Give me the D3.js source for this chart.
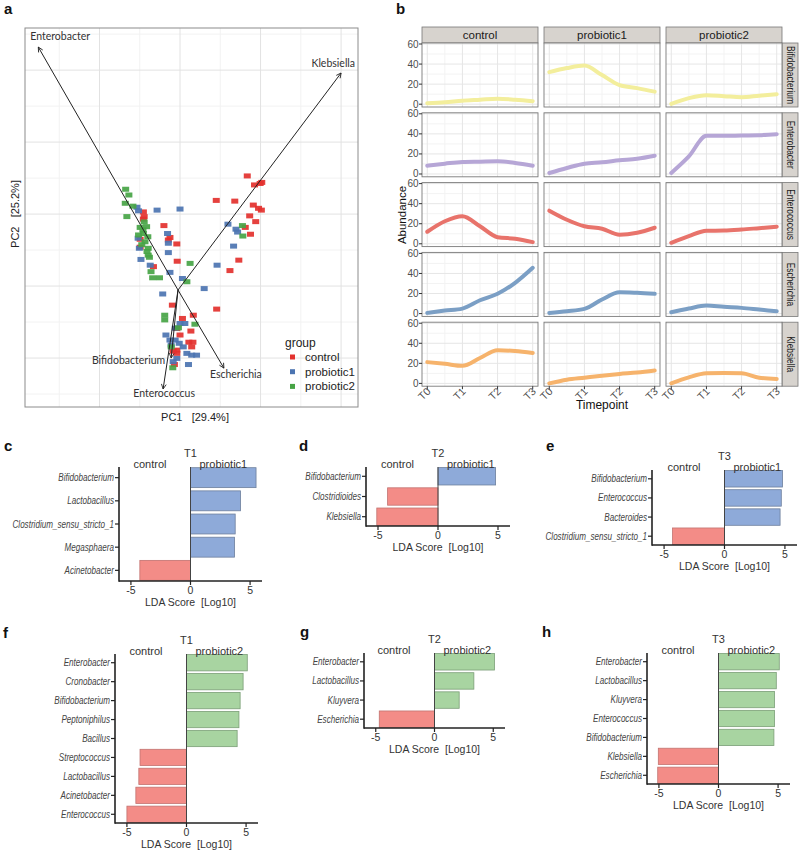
<!DOCTYPE html>
<html><head><meta charset="utf-8">
<script src="https://cdn.jsdelivr.net/npm/d3@7"></script>
<style>body{margin:0;background:#fff}svg{display:block}text{font-family:"Liberation Sans",Arial,sans-serif;white-space:pre}</style>
</head><body><svg id="c" width="800" height="850"></svg>
<script>
// ---------------- Panel a: PCA biplot data ----------------
const pcaGroups = ["control","probiotic1","probiotic2"];
const pcaControl = [[-9.1,20.6],[-8.9,19.3],[-9.1,18.6],[-4.0,16.8],[-2.5,13.5],[-2.9,12.8],[-0.8,11.7],[-0.7,6.9],[-9.9,13.0],[-9.9,10.8],[-6.6,5.4],[-1.9,-5.3],[9.1,-6.4],[14.6,7.2],[12.4,4.3],[16.7,30.6],[18.5,28.1],[19.9,28.5],[20.3,28.8],[9.0,23.8],[13.6,23.6],[18.2,22.5],[19.5,21.6],[20.2,21.1],[17.3,19.5],[18.8,17.9],[16.2,16.3],[17.5,14.4],[0.6,-9.0],[3.3,-8.1],[-0.8,-11.8],[2.7,-12.5],[0.0,-13.6],[2.2,-15.6],[3.2,-15.6],[-0.8,-17.8],[-0.8,-18.7],[2.9,-16.9],[-1.7,-18.1],[-1.4,-21.8]];
const pcaProbiotic1 = [[-10.7,21.9],[-10.3,20.9],[-5.7,21.1],[0.0,21.4],[-3.1,14.6],[-2.9,11.9],[-2.9,9.3],[-10.1,10.5],[-9.7,7.4],[-7.4,5.8],[-2.5,3.8],[0.6,2.1],[-4.3,-2.2],[6.0,-0.7],[9.2,5.8],[11.9,17.2],[13.9,15.8],[14.3,15.0],[13.3,11.1],[0.0,-10.4],[-3.5,-13.6],[-2.5,-15.0],[-1.2,-15.0],[-0.2,-15.9],[0.8,-16.9],[-2.2,-16.4],[1.7,-18.7],[2.9,-19.2],[4.1,-19.2],[-0.8,-20.1],[-1.7,-21.0],[2.1,-21.8],[1.2,-10.4],[-1.2,-11.7],[-10.4,13.3]];
const pcaProbiotic2 = [[-13.5,26.9],[-12.7,25.3],[-13.6,23.0],[-11.7,22.2],[-13.2,19.3],[-9.9,16.3],[-8.3,16.5],[-9.1,14.6],[-10.3,14.2],[-8.0,13.7],[-8.7,12.3],[-7.9,10.5],[-7.9,8.6],[-7.6,8.0],[-7.2,4.0],[-6.8,2.3],[-5.1,2.3],[2.5,6.3],[1.7,1.2],[-3.8,-8.1],[-3.8,-9.4],[3.7,-10.6],[-1.8,-22.7],[15.5,16.8],[15.6,13.9],[-9.2,15.6],[-8.9,17.8],[-0.4,-11.6],[-2.2,-16.9],[-9.5,11.5],[-8.2,9.6]];
const loadingNames = ["Enterobacter","Klebsiella","Bifidobacterium","Escherichia","Enterococcus"];
const loadingPC1 = [-35.2, 40.0, -2.2, 10.9, -4.2];
const loadingPC2 = [66.4, 59.2, -20.0, -22.8, -28.6];
const loadingOrigin = [-0.5, -1.1];
const pcaGridMajorX = [-20,0,20,40], pcaGridMinorX = [-30,-10,10,30];
const pcaGridMajorY = [-20,0,20,40,60], pcaGridMinorY = [-30,-10,10,30,50,70];

// ---------------- Panel b: abundance over time ----------------
const timepoints = ["T0","T1","T2","T3"];
const smoothSteps = [0,0.5,1,1.5,2,2.5,3];
const treatments = ["control","probiotic1","probiotic2"];
const genera = ["Bifidobacterium","Enterobacter","Enterococcus","Escherichia","Klebsiella"];
const abundanceTicks = [0,20,40,60];
const bifidobacteriumSeries = [[1,2,3.5,4.5,5.5,4.5,3],[32,36,38.5,29,19,16,12.5],[0.3,6,9,8,7,8.5,10]];
const enterobacterSeries = [[8.3,10.3,12,12.3,12.6,11,8.3],[1,6,10.3,11.6,13.6,15.2,18.2],[1,17.5,38,38,38.4,38.7,39.7]];
const enterococcusSeries = [[12,22.5,27.5,17.5,6.6,5,1.7],[33,24,17.5,15,9,11,16],[1,7.6,13,13.2,14.2,15.6,17]];
const escherichiaSeries = [[0.7,3,5,13.3,19.7,30.7,45.7],[0.7,2.3,4.7,14,21.3,20.7,19.7],[1.3,5,8,6.7,5.7,4,2.3]];
const klebsiellaSeries = [[21.2,19.5,17.5,25.3,33,32.3,30.3],[0,3.7,5.7,7.7,9.4,10.8,12.8],[0,6,10,10.4,10,5.7,4.4]];

// ---------------- Panels c-h: LDA scores ----------------
const ldaTicks = [-5,0,5];
const cTaxa = ["Bifidobacterium","Lactobacillus","Clostridium_sensu_stricto_1","Megasphaera","Acinetobacter"];
const cScores = [5.5,4.2,3.75,3.7,-4.25];
const dTaxa = ["Bifidobacterium","Clostridioides","Klebsiella"];
const dScores = [4.8,-4.2,-5.1];
const eTaxa = ["Bifidobacterium","Enterococcus","Bacteroides","Clostridium_sensu_stricto_1"];
const eScores = [4.8,4.7,4.6,-4.3];
const fTaxa = ["Enterobacter","Cronobacter","Bifidobacterium","Peptoniphilus","Bacillus","Streptococcus","Lactobacillus","Acinetobacter","Enterococcus"];
const fScores = [5.1,4.75,4.5,4.4,4.25,-3.9,-4.0,-4.25,-5.0];
const gTaxa = ["Enterobacter","Lactobacillus","Kluyvera","Escherichia"];
const gScores = [5.1,3.35,2.1,-4.7];
const hTaxa = ["Enterobacter","Lactobacillus","Kluyvera","Enterococcus","Bifidobacterium","Klebsiella","Escherichia"];
const hScores = [5.1,4.85,4.7,4.7,4.65,-5.05,-5.1];

const svg = d3.select("#c");
function letter(t,x,y){svg.append("text").attr("x",x).attr("y",y).attr("font-size",15).attr("font-weight","bold").attr("fill","#111").text(t);}

// ================= Panel a =================
letter("a",4,14);
const xA = d3.scaleLinear().domain([-38.5,44.2]).range([25,358]);
const yA = d3.scaleLinear().domain([-33.6,71.7]).range([407,28]);
const gA = svg.append("g");
gA.append("rect").attr("x",25).attr("y",28).attr("width",333).attr("height",379).attr("fill","#fff");
gA.selectAll(null).data(pcaGridMinorX).join("line").attr("x1",d=>xA(d)).attr("x2",d=>xA(d)).attr("y1",28).attr("y2",407).attr("stroke","#f2f2f2");
gA.selectAll(null).data(pcaGridMinorY).join("line").attr("y1",d=>yA(d)).attr("y2",d=>yA(d)).attr("x1",25).attr("x2",358).attr("stroke","#f2f2f2");
gA.selectAll(null).data(pcaGridMajorX).join("line").attr("x1",d=>xA(d)).attr("x2",d=>xA(d)).attr("y1",28).attr("y2",407).attr("stroke","#e2e2e2");
gA.selectAll(null).data(pcaGridMajorY).join("line").attr("y1",d=>yA(d)).attr("y2",d=>yA(d)).attr("x1",25).attr("x2",358).attr("stroke","#e2e2e2");
gA.append("rect").attr("x",25).attr("y",28).attr("width",333).attr("height",379).attr("fill","none").attr("stroke","#8c8c8c");
const groupColors = ["#e3312e","#4c74b1","#47a445"];
[pcaControl,pcaProbiotic1,pcaProbiotic2].forEach((arr,i)=>{
  gA.selectAll(null).data(arr).join("rect")
    .attr("x",d=>xA(d[0])-3.5).attr("y",d=>yA(d[1])-2.5).attr("width",7).attr("height",5)
    .attr("fill",groupColors[i]).attr("opacity",0.92);
});
const defs = svg.append("defs");
defs.append("marker").attr("id","arr").attr("viewBox","0 0 10 10").attr("refX",9).attr("refY",5)
  .attr("markerWidth",6).attr("markerHeight",6).attr("orient","auto")
  .append("path").attr("d","M1,1 L9,5 L1,9").attr("fill","none").attr("stroke","#222").attr("stroke-width",1.4);
loadingNames.forEach((n,i)=>{
  gA.append("line").attr("x1",xA(loadingOrigin[0])).attr("y1",yA(loadingOrigin[1]))
    .attr("x2",xA(loadingPC1[i])).attr("y2",yA(loadingPC2[i])).attr("stroke","#222").attr("stroke-width",1)
    .attr("marker-end","url(#arr)");
});
const labOff = [[-8,-7,"start"],[14,-6,"end"],[-6,6,"end"],[-14,10,"start"],[1,8,"middle"]];
loadingNames.forEach((n,i)=>{
  gA.append("text").attr("x",xA(loadingPC1[i])+labOff[i][0]).attr("y",yA(loadingPC2[i])+labOff[i][1])
    .attr("text-anchor",labOff[i][2]).attr("font-size",10.5).attr("fill","#333")
    .style("font-family","Lato,'Open Sans',sans-serif").text(n);
});
svg.append("text").attr("x",195).attr("y",421).attr("text-anchor","middle").attr("font-size",11).attr("fill","#222").text("PC1   [29.4%]");
svg.append("text").attr("transform","translate(19,214) rotate(-90)").attr("text-anchor","middle").attr("font-size",11).attr("fill","#222").text("PC2   [25.2%]");
// legend
const lg = svg.append("g");
lg.append("text").attr("x",285).attr("y",347).attr("font-size",12).attr("fill","#222").text("group");
pcaGroups.forEach((g,i)=>{
  lg.append("rect").attr("x",290).attr("y",354.5+i*14.7).attr("width",5).attr("height",5).attr("fill",groupColors[i]);
  lg.append("text").attr("x",305).attr("y",361+i*14.7).attr("font-size",11.5).attr("fill","#222").text(g);
});

// ================= Panel b =================
letter("b",396,14);
const colX0 = [422,544,666], panelW = 116, rowY0 = 43, rowStep = 69.8, panelH = 64;
const xB = d3.scaleLinear().domain([-0.15,3.15]).range([0,panelW]);
const yB = d3.scaleLinear().domain([-2.8,61]).range([panelH,0]);
const generaSeries = [bifidobacteriumSeries,enterobacterSeries,enterococcusSeries,escherichiaSeries,klebsiellaSeries];
const generaColors = ["#f3ee9c","#b6a6d6","#e8736b","#7b9fc5","#f6b36c"];
const stripFill = "#d7d3ce";
const line = d3.line().x((d,i)=>xB(smoothSteps[i])).y(d=>yB(d)).curve(d3.curveMonotoneX);
const gB = svg.append("g");
treatments.forEach((t,c)=>{
  gB.append("rect").attr("x",colX0[c]).attr("y",27).attr("width",panelW).attr("height",16).attr("fill",stripFill).attr("stroke","#777").attr("stroke-width",0.8);
  gB.append("text").attr("x",colX0[c]+panelW/2).attr("y",39).attr("text-anchor","middle").attr("font-size",11.5).attr("fill","#1a1a1a").text(t);
});
genera.forEach((gname,r)=>{
  const y0 = rowY0 + r*rowStep;
  gB.append("rect").attr("x",782).attr("y",y0).attr("width",16).attr("height",panelH).attr("fill",stripFill).attr("stroke","#777").attr("stroke-width",0.8);
  gB.append("text").attr("transform",`translate(786.5,${y0+panelH/2}) rotate(90) scale(0.8,1)`).attr("text-anchor","middle").attr("font-size",10.5).attr("fill","#1a1a1a").text(gname);
  treatments.forEach((t,c)=>{
    const p = gB.append("g").attr("transform",`translate(${colX0[c]},${y0})`);
    p.append("rect").attr("width",panelW).attr("height",panelH).attr("fill","#fff");
    p.selectAll(null).data([0.5,1.5,2.5]).join("line").attr("x1",d=>xB(d)).attr("x2",d=>xB(d)).attr("y1",0).attr("y2",panelH).attr("stroke","#f3f3f3");
    p.selectAll(null).data([10,30,50]).join("line").attr("y1",d=>yB(d)).attr("y2",d=>yB(d)).attr("x1",0).attr("x2",panelW).attr("stroke","#f3f3f3");
    p.selectAll(null).data(timepoints).join("line").attr("x1",(d,i)=>xB(i)).attr("x2",(d,i)=>xB(i)).attr("y1",0).attr("y2",panelH).attr("stroke","#e6e6e6");
    p.selectAll(null).data(abundanceTicks).join("line").attr("y1",d=>yB(d)).attr("y2",d=>yB(d)).attr("x1",0).attr("x2",panelW).attr("stroke","#e6e6e6");
    p.append("path").attr("d",line(generaSeries[r][c])).attr("fill","none").attr("stroke",generaColors[r]).attr("stroke-width",4).attr("stroke-linecap","round");
    p.append("rect").attr("width",panelW).attr("height",panelH).attr("fill","none").attr("stroke","#7a7a7a").attr("stroke-width",0.9);
    if(c===0){
      abundanceTicks.forEach(v=>{
        p.append("line").attr("x1",-3).attr("x2",0).attr("y1",yB(v)).attr("y2",yB(v)).attr("stroke","#333");
        p.append("text").attr("x",-3.5).attr("y",yB(v)+3.5).attr("text-anchor","end").attr("font-size",10).attr("fill","#4d4d4d").text(v);
      });
    }
    if(r===genera.length-1){
      timepoints.forEach((tp,i)=>{
        p.append("line").attr("x1",xB(i)).attr("x2",xB(i)).attr("y1",panelH).attr("y2",panelH+3).attr("stroke","#333");
        p.append("text").attr("transform",`translate(${xB(i)+4},${panelH+6}) rotate(-45)`).attr("text-anchor","end").attr("font-size",10.5).attr("fill","#4d4d4d").text(tp);
      });
    }
  });
});
svg.append("text").attr("x",602).attr("y",409).attr("text-anchor","middle").attr("font-size",12).attr("fill","#111").text("Timepoint");
svg.append("text").attr("transform","translate(406,215) rotate(-90)").attr("text-anchor","middle").attr("font-size",11.5).attr("fill","#111").text("Abundance");

// ================= Panels c-h =================
const posBlue = ["#8eaad9","#6d7f9c"], posGreen = ["#a8d4a1","#7b9e77"], negRed = ["#f38c87","#c27370"];
function drawLDA(o){
  const g = svg.append("g");
  const x = d3.scaleLinear().domain([-6,6]).range([o.x0,o.x1]);
  const y = d3.scaleBand().domain(o.taxa).range([o.y0,o.y1]).paddingInner(0.14).paddingOuter(0.03);
  g.selectAll(null).data(o.scores).join("rect")
    .attr("x",d=>Math.min(x(0),x(d))).attr("width",d=>Math.abs(x(d)-x(0)))
    .attr("y",(d,i)=>y(o.taxa[i])).attr("height",y.bandwidth())
    .attr("fill",d=>d>0?o.pos[0]:negRed[0]).attr("stroke",d=>d>0?o.pos[1]:negRed[1]).attr("stroke-width",0.8);
  g.append("line").attr("x1",x(0)).attr("x2",x(0)).attr("y1",o.y0).attr("y2",o.y1).attr("stroke","#444").attr("stroke-width",1);
  g.append("line").attr("x1",o.x0).attr("x2",o.x0).attr("y1",o.y0).attr("y2",o.y1+0.8).attr("stroke","#222").attr("stroke-width",1.6);
  g.append("line").attr("x1",o.x0).attr("x2",o.x1).attr("y1",o.y1).attr("y2",o.y1).attr("stroke","#222").attr("stroke-width",1.6);
  ldaTicks.forEach(t=>{
    g.append("line").attr("x1",x(t)).attr("x2",x(t)).attr("y1",o.y1).attr("y2",o.y1+4).attr("stroke","#222").attr("stroke-width",1.2);
    g.append("text").attr("x",x(t)).attr("y",o.y1+13).attr("text-anchor","middle").attr("font-size",10.5).attr("fill","#333").text(t);
  });
  o.taxa.forEach(tx=>{
    const cy = y(tx)+y.bandwidth()/2;
    g.append("line").attr("x1",o.x0-4).attr("x2",o.x0).attr("y1",cy).attr("y2",cy).attr("stroke","#222").attr("stroke-width",1.2);
    g.append("text").attr("transform",`translate(${o.x0-5},${cy+3.5}) scale(0.81,1)`).attr("text-anchor","end").attr("font-size",10).attr("font-style","italic")
      .attr("fill","#444").text(tx);
  });
  g.append("text").attr("x",x(0)).attr("y",o.y1+25).attr("text-anchor","middle").attr("font-size",10.5).attr("fill","#333").text("LDA Score  [Log10]");
  g.append("text").attr("x",x(0)).attr("y",o.y0-10).attr("text-anchor","middle").attr("font-size",11).attr("fill","#333").text(o.title);
  g.append("text").attr("x",x(0)-24).attr("y",o.y0+1).attr("text-anchor","end").attr("font-size",11).attr("fill","#333").text("control");
  g.append("text").attr("x",x(0)+9).attr("y",o.y0+1).attr("text-anchor","start").attr("font-size",11).attr("fill","#333").text(o.group);
  letter(o.letter,o.lx,o.ly);
}
drawLDA({taxa:cTaxa,scores:cScores,x0:119,x1:262,y0:467,y1:581,title:"T1",group:"probiotic1",pos:posBlue,letter:"c",lx:4,ly:451});
drawLDA({taxa:dTaxa,scores:dScores,x0:366,x1:510,y0:467,y1:526,title:"T2",group:"probiotic1",pos:posBlue,letter:"d",lx:299,ly:451});
drawLDA({taxa:eTaxa,scores:eScores,x0:652,x1:797,y0:470,y1:545,title:"T3",group:"probiotic1",pos:posBlue,letter:"e",lx:546,ly:451});
drawLDA({taxa:fTaxa,scores:fScores,x0:115,x1:258,y0:654,y1:823,title:"T1",group:"probiotic2",pos:posGreen,letter:"f",lx:3,ly:638});
drawLDA({taxa:gTaxa,scores:gScores,x0:364,x1:505,y0:653,y1:728,title:"T2",group:"probiotic2",pos:posGreen,letter:"g",lx:300,ly:637});
drawLDA({taxa:hTaxa,scores:hScores,x0:647,x1:790,y0:653,y1:784,title:"T3",group:"probiotic2",pos:posGreen,letter:"h",lx:542,ly:637});
</script></body></html>
